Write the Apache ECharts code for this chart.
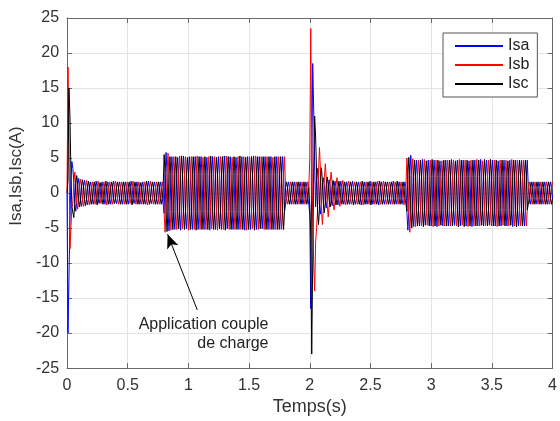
<!DOCTYPE html>
<html>
<head>
<meta charset="utf-8">
<script src="https://cdn.jsdelivr.net/npm/echarts@6/dist/echarts.min.js"></script>
<style>html,body{margin:0;padding:0;background:#fff;}#chart{width:560px;height:421px;}</style>
</head>
<body>
<div id="chart"></div>
<script>
// Sample step of the recorded currents (s)
const dt = 0.008;

const seriesNames = ['Isa', 'Isb', 'Isc'];
const seriesColors = ['#0000ff', '#ff0000', '#000000'];
const xTickLabels = ['0', '0.5', '1', '1.5', '2', '2.5', '3', '3.5', '4'];
const yTickLabels = ['-25', '-20', '-15', '-10', '-5', '0', '5', '10', '15', '20', '25'];

const Isa = [
0,-20,-12,-4,2,4.5,3.5,1.5,-1.5,-2.6,-1.3,1.1,
2.1,1.0,-1.0,-1.9,-0.9,0.9,1.8,0.9,-0.8,-1.7,-0.8,0.8,
1.6,0.8,-0.8,-1.6,-0.8,0.8,1.7,0.8,-0.8,-1.5,-0.8,0.8,
1.6,0.8,-0.7,-1.6,-0.8,0.8,1.6,0.8,-0.8,-1.6,-0.8,0.9,
1.7,0.8,-0.8,-1.5,-0.8,0.8,1.6,0.8,-0.8,-1.6,-0.7,0.8,
1.6,0.8,-0.8,-1.6,-0.8,0.8,1.7,0.9,-0.8,-1.5,-0.8,0.8,
1.6,0.8,-0.8,-1.6,-0.8,0.8,1.6,0.8,-0.8,-1.6,-0.8,0.8,
1.7,0.8,-0.8,-1.5,-0.8,0.8,1.6,0.8,-0.8,-1.6,-0.8,0.8,
1.6,0.8,-0.8,-1.6,-2.9,2.9,5.8,2.8,-2.7,-5.4,-2.6,2.6,
5.2,2.6,-2.6,-5.2,-2.6,2.6,5.1,2.6,-2.6,-5.3,-2.6,2.6,
5.3,2.6,-2.6,-5.1,-2.6,2.6,5.2,2.6,-2.6,-5.2,-2.6,2.6,
5.2,2.6,-2.6,-5.2,-2.6,2.6,5.2,2.6,-2.5,-5.2,-2.6,2.6,
5.1,2.6,-2.6,-5.3,-2.6,2.6,5.2,2.6,-2.6,-5.2,-2.6,2.6,
5.2,2.6,-2.6,-5.2,-2.6,2.5,5.3,2.6,-2.6,-5.1,-2.6,2.6,
5.2,2.6,-2.6,-5.2,-2.6,2.6,5.1,2.6,-2.6,-5.2,-2.6,2.6,
5.2,2.6,-2.6,-5.3,-2.6,2.6,5.2,2.6,-2.6,-5.2,-2.6,2.6,
5.3,2.6,-2.6,-5.2,-2.6,2.6,5.2,2.6,-2.6,-5.1,-2.6,2.6,
5.2,2.6,-2.6,-5.2,-2.6,2.6,5.2,2.6,-2.6,-5.2,-2.6,2.6,
5.2,2.6,-2.6,-5.2,-2.6,2.6,5.2,2.6,-2.6,-1.6,-0.8,0.8,
1.6,0.8,-0.8,-1.6,-0.8,0.8,1.6,0.8,-0.8,-1.6,-0.8,0.8,
1.6,0.8,-0.8,-1.6,-0.8,0.8,1.6,0.8,-0.8,-1.6,-3,-16.5,
2,18.5,12,4,-2,2,3.5,1.7,-1.7,-3,-1.4,1.3,
2.2,1.1,-1.1,-2.1,-1.0,1.0,1.9,0.9,-0.9,-1.8,-0.9,0.9,
1.7,0.8,-0.8,-1.7,-0.8,0.8,1.7,0.8,-0.8,-1.6,-0.8,0.8,
1.6,0.8,-0.8,-1.6,-0.8,0.8,1.7,0.8,-0.8,-1.6,-0.8,0.8,
1.6,0.8,-0.8,-1.7,-0.8,0.8,1.6,0.8,-0.8,-1.6,-0.8,0.8,
1.7,0.8,-0.8,-1.6,-0.8,0.8,1.6,0.8,-0.8,-1.7,-0.8,0.8,
1.6,0.8,-0.8,-1.6,-0.8,0.8,1.6,0.8,-0.8,-1.6,-0.8,0.8,
1.7,0.8,-0.8,-1.6,-0.8,0.8,1.6,0.8,-0.8,-1.6,-0.8,0.8,
1.6,0.8,-2.7,-5.3,-2.6,2.6,5.4,2.5,-2.4,-4.8,-2.4,2.4,
4.7,2.4,-2.4,-4.7,-2.4,2.4,4.8,2.4,-2.4,-4.6,-2.4,2.4,
4.7,2.4,-2.4,-4.7,-2.4,2.4,4.7,2.4,-2.4,-4.8,-2.4,2.4,
4.6,2.4,-2.4,-4.7,-2.4,2.4,4.7,2.4,-2.4,-4.7,-2.4,2.4,
4.8,2.4,-2.4,-4.6,-2.4,2.4,4.7,2.4,-2.4,-4.7,-2.4,2.4,
4.7,2.4,-2.4,-4.7,-2.4,2.4,4.6,2.4,-2.4,-4.8,-2.4,2.4,
4.7,2.4,-2.4,-4.7,-2.4,2.4,4.8,2.4,-2.4,-4.7,-2.4,2.4,
4.7,2.4,-2.4,-4.6,-2.4,2.4,4.7,2.4,-2.4,-4.7,-2.4,2.4,
4.6,2.4,-2.4,-4.7,-2.4,2.4,4.7,2.4,-2.4,-4.7,-2.4,2.4,
4.7,2.4,-2.4,-4.8,-2.4,2.4,4.7,2.4,-2.4,-4.7,-2.4,2.4,
4.7,2.4,-2.4,-4.7,-2.4,2.4,4.7,0.8,-0.8,-1.6,-0.8,0.8,
1.6,0.8,-0.8,-1.6,-0.8,0.8,1.6,0.8,-0.8,-1.6,-0.8,0.8,
1.6,0.8,-0.8,-1.6,-0.8,0.8,1.6,0.8,-0.8
];

const Isb = [
0,18,8,-8,-5,-2,-1.5,1.5,3,1.3,-1.2,-2.3,
-1.0,1.0,2.0,1.0,-0.9,-1.9,-0.9,0.9,1.8,0.8,-0.8,-1.7,
-0.8,0.8,1.6,0.8,-0.8,-1.6,-0.8,0.8,1.7,0.8,-0.8,-1.5,
-0.8,0.8,1.6,0.8,-0.8,-1.7,-0.8,0.8,1.6,0.8,-0.8,-1.6,
-0.8,0.8,1.7,0.8,-0.8,-1.6,-0.8,0.8,1.6,0.8,-0.8,-1.6,
-0.8,0.8,1.6,0.8,-0.8,-1.5,-0.8,0.8,1.7,0.8,-0.8,-1.6,
-0.8,0.8,1.6,0.8,-0.8,-1.6,-0.8,0.8,1.6,0.8,-0.8,-1.7,
-0.8,0.8,1.7,0.8,-0.8,-1.6,-0.8,0.8,1.6,0.8,-0.8,-1.6,
-0.8,0.8,1.6,0.8,-2.8,-5.6,-2.8,2.8,5.7,2.7,-2.6,-5.3,
-2.6,2.6,5.2,2.6,-2.6,-5.2,-2.6,2.6,5.3,2.6,-2.6,-5.1,
-2.6,2.6,5.2,2.6,-2.6,-5.3,-2.6,2.6,5.2,2.6,-2.6,-5.2,
-2.6,2.6,5.3,2.6,-2.6,-5.2,-2.6,2.6,5.1,2.6,-2.6,-5.2,
-2.6,2.6,5.2,2.6,-2.6,-5.1,-2.6,2.6,5.2,2.6,-2.6,-5.3,
-2.6,2.6,5.2,2.6,-2.6,-5.2,-2.6,2.6,5.3,2.6,-2.6,-5.2,
-2.6,2.6,5.1,2.6,-2.6,-5.2,-2.6,2.6,5.2,2.6,-2.6,-5.2,
-2.6,2.6,5.2,2.6,-2.6,-5.3,-2.6,2.6,5.2,2.6,-2.6,-5.1,
-2.6,2.6,5.3,2.6,-2.6,-5.2,-2.6,2.6,5.2,2.6,-2.6,-5.2,
-2.6,2.6,5.2,2.6,-2.6,-5.2,-2.6,2.6,5.1,2.6,-2.6,-5.2,
-2.6,2.6,5.2,2.6,-2.6,-5.2,-2.6,2.6,5.2,0.8,-0.8,-1.6,
-0.8,0.8,1.6,0.8,-0.8,-1.6,-0.8,0.8,1.6,0.8,-0.8,-1.6,
-0.8,0.8,1.6,0.8,-0.8,-1.6,-0.8,0.8,1.6,0.8,5,23.5,
8,-4,-10,-14,-7,-5,-2.5,3,6.5,3.2,-2.5,-4.5,
-2.2,2.2,4.2,2.0,-1.8,-3.4,-1.6,1.6,3.0,1.4,-1.3,-2.4,
-1.1,1.1,2.2,1.0,-0.9,-1.9,-0.9,0.9,1.8,0.8,-0.8,-1.7,
-0.8,0.8,1.7,0.8,-0.8,-1.6,-0.8,0.8,1.6,0.8,-0.8,-1.6,
-0.8,0.8,1.6,0.8,-0.8,-1.7,-0.8,0.8,1.6,0.8,-0.8,-1.6,
-0.8,0.8,1.6,0.8,-0.8,-1.6,-0.8,0.8,1.7,0.8,-0.8,-1.6,
-0.8,0.8,1.7,0.8,-0.8,-1.6,-0.8,0.8,1.6,0.8,-0.8,-1.6,
-0.8,0.8,1.6,0.8,-0.8,-1.6,-0.8,0.8,1.6,0.8,-0.8,-1.7,
-0.8,0.8,5.0,2.5,-2.7,-5.6,-2.6,2.5,4.9,2.4,-2.4,-4.8,
-2.4,2.4,4.7,2.4,-2.4,-4.7,-2.4,2.4,4.8,2.4,-2.4,-4.6,
-2.4,2.4,4.7,2.4,-2.4,-4.8,-2.4,2.4,4.7,2.4,-2.4,-4.7,
-2.4,2.4,4.6,2.4,-2.4,-4.7,-2.4,2.4,4.7,2.4,-2.4,-4.7,
-2.4,2.4,4.7,2.4,-2.4,-4.7,-2.4,2.4,4.8,2.4,-2.4,-4.6,
-2.4,2.4,4.7,2.4,-2.4,-4.8,-2.4,2.4,4.7,2.4,-2.4,-4.7,
-2.4,2.4,4.8,2.4,-2.4,-4.7,-2.4,2.4,4.6,2.4,-2.4,-4.7,
-2.4,2.4,4.7,2.4,-2.4,-4.7,-2.4,2.4,4.7,2.4,-2.4,-4.8,
-2.4,2.4,4.7,2.4,-2.4,-4.6,-2.4,2.4,4.7,2.4,-2.4,-4.7,
-2.4,2.4,4.8,2.4,-2.4,-4.7,-2.4,2.4,4.7,2.4,-2.4,-4.7,
-2.4,2.4,4.7,2.4,-2.4,-4.7,-2.4,0.8,1.6,0.8,-0.8,-1.6,
-0.8,0.8,1.6,0.8,-0.8,-1.6,-0.8,0.8,1.6,0.8,-0.8,-1.6,
-0.8,0.8,1.6,0.8,-0.8,-1.6,-0.8,0.8,1.6
];

const Isc = [
0,2,15,11,3,-2,-2,-3.5,-1.5,1.3,2.5,1.2,
-1.0,-2.0,-1.0,1.0,1.9,0.9,-0.9,-1.8,-0.9,0.8,1.7,0.8,
-0.8,-1.6,-0.8,0.8,1.6,0.8,-0.8,-1.7,-0.8,0.8,1.5,0.8,
-0.8,-1.6,-0.8,0.8,1.7,0.8,-0.8,-1.6,-0.8,0.8,1.6,0.8,
-0.8,-1.5,-0.8,0.8,1.6,0.8,-0.8,-1.6,-0.8,0.8,1.6,0.8,
-0.8,-1.6,-0.8,0.8,1.6,0.8,-0.8,-1.7,-0.8,0.8,1.6,0.8,
-0.8,-1.6,-0.8,0.8,1.5,0.8,-0.8,-1.6,-0.8,0.8,1.7,0.8,
-0.8,-1.6,-0.8,0.8,1.6,0.8,-0.8,-1.6,-0.8,0.8,1.6,0.8,
-0.8,-1.6,-0.8,0.8,5.5,2.8,-2.7,-5.5,-2.6,2.6,5.2,2.6,
-2.6,-5.2,-2.6,2.6,5.2,2.6,-2.6,-5.1,-2.6,2.6,5.3,2.6,
-2.6,-5.2,-2.6,2.6,5.1,2.6,-2.6,-5.2,-2.6,2.6,5.2,2.6,
-2.6,-5.3,-2.6,2.6,5.2,2.6,-2.6,-5.2,-2.6,2.6,5.2,2.6,
-2.6,-5.2,-2.6,2.6,5.3,2.6,-2.6,-5.2,-2.6,2.6,5.1,2.6,
-2.6,-5.1,-2.6,2.6,5.2,2.6,-2.6,-5.3,-2.6,2.6,5.2,2.6,
-2.6,-5.2,-2.6,2.6,5.2,2.6,-2.6,-5.2,-2.6,2.6,5.3,2.6,
-2.6,-5.2,-2.6,2.6,5.1,2.6,-2.6,-5.2,-2.6,2.6,5.2,2.6,
-2.6,-5.3,-2.6,2.6,5.2,2.6,-2.6,-5.1,-2.6,2.6,5.2,2.6,
-2.6,-5.2,-2.6,2.6,5.2,2.6,-2.6,-5.2,-2.6,2.6,5.2,2.6,
-2.6,-5.2,-2.6,2.6,5.2,2.6,-2.6,-5.2,-2.6,0.8,1.6,0.8,
-0.8,-1.6,-0.8,0.8,1.6,0.8,-0.8,-1.6,-0.8,0.8,1.6,0.8,
-0.8,-1.6,-0.8,0.8,1.6,0.8,-0.8,-1.6,-0.8,0.8,-2,-6,
-23,-10,3,11,8,3,-2.5,-4.5,-2.2,2,3.6,1.7,
-1.5,-2.8,-1.3,1.2,2.3,1.1,-1.0,-2.0,-1.0,0.9,1.8,0.9,
-0.8,-1.7,-0.8,0.8,1.7,0.8,-0.8,-1.6,-0.8,0.8,1.6,0.8,
-0.8,-1.6,-0.8,0.8,1.6,0.8,-0.8,-1.7,-0.8,0.8,1.6,0.8,
-0.8,-1.6,-0.8,0.8,1.7,0.8,-0.8,-1.6,-0.8,0.8,1.6,0.8,
-0.8,-1.7,-0.8,0.8,1.6,0.8,-0.8,-1.6,-0.8,0.8,1.7,0.8,
-0.8,-1.6,-0.8,0.8,1.6,0.8,-0.8,-1.6,-0.8,0.8,1.6,0.8,
-0.8,-1.6,-0.8,0.8,1.7,0.8,-0.8,-1.6,-0.8,0.8,1.6,0.8,
-0.8,-1.6,-2.6,2.6,5.1,2.5,-2.5,-5.0,-2.4,2.4,4.7,2.4,
-2.4,-4.7,-2.4,2.4,4.7,2.4,-2.4,-4.8,-2.4,2.4,4.6,2.4,
-2.4,-4.7,-2.4,2.4,4.8,2.4,-2.4,-4.7,-2.4,2.4,4.7,2.4,
-2.4,-4.6,-2.4,2.4,4.7,2.4,-2.4,-4.7,-2.4,2.4,4.7,2.4,
-2.4,-4.7,-2.4,2.4,4.6,2.4,-2.4,-4.8,-2.4,2.4,4.7,2.4,
-2.4,-4.8,-2.4,2.4,4.7,2.4,-2.4,-4.7,-2.4,2.4,4.7,2.4,
-2.4,-4.7,-2.4,2.4,4.7,2.4,-2.4,-4.6,-2.4,2.4,4.8,2.4,
-2.4,-4.7,-2.4,2.4,4.8,2.4,-2.4,-4.7,-2.4,2.4,4.7,2.4,
-2.4,-4.7,-2.4,2.4,4.7,2.4,-2.4,-4.7,-2.4,2.4,4.6,2.4,
-2.4,-4.6,-2.4,2.4,4.7,2.4,-2.4,-4.8,-2.4,2.4,4.7,2.4,
-2.4,-4.7,-2.4,2.4,4.7,2.4,-2.4,-1.6,-0.8,0.8,1.6,0.8,
-0.8,-1.6,-0.8,0.8,1.6,0.8,-0.8,-1.6,-0.8,0.8,1.6,0.8,
-0.8,-1.6,-0.8,0.8,1.6,0.8,-0.8,-1.6,-0.8
];

// Annotation (data coordinates)
const arrowFrom = [1.073, -16.7];
const arrowTo = [0.829, -5.9];
const noteAnchor = [1.66, -20.2];
const noteText = 'Application couple\nde charge';

const time = Isa.map((_, i) => Math.round(i * dt * 1000) / 1000);
const allValues = [Isa, Isb, Isc];

const FONT = '"Liberation Sans", Arial, Helvetica, sans-serif';
const chart = echarts.init(document.getElementById('chart'), null, { renderer: 'canvas' });

const frameColor = '#6a6a6a';
const gridColor = '#e4e4e4';
const textColor = '#333';

const option = {
  animation: false,
  backgroundColor: '#fff',
  textStyle: { fontFamily: FONT },
  grid: { left: 65, right: 3, top: 18, bottom: 49, containLabel: false },
  legend: {
    data: seriesNames.map((n) => ({ name: n, icon: 'rect' })),
    orient: 'vertical',
    left: 443,
    top: 33,
    padding: [5, 8, 5, 12],
    itemGap: 3,
    itemWidth: 48,
    itemHeight: 2,
    backgroundColor: '#fff',
    borderColor: '#555',
    borderWidth: 1,
    textStyle: { fontFamily: FONT, fontSize: 16, color: '#222', lineHeight: 16 }
  },
  xAxis: [
    {
      type: 'value', min: 0, max: 4, interval: 0.5,
      name: 'Temps(s)', nameLocation: 'middle', nameGap: 24,
      nameTextStyle: { fontFamily: FONT, fontSize: 18, color: textColor },
      axisLine: { show: true, onZero: false, lineStyle: { color: frameColor, width: 1 } },
      axisTick: { show: true, inside: true, length: 5, lineStyle: { color: frameColor } },
      axisLabel: { fontFamily: FONT, fontSize: 16, color: textColor, margin: 9,
        formatter: (v) => xTickLabels[Math.round(v / 0.5)] },
      splitLine: { show: true, lineStyle: { color: gridColor, width: 1 } }
    },
    {
      type: 'value', min: 0, max: 4, interval: 0.5, position: 'top',
      axisLine: { show: true, onZero: false, lineStyle: { color: frameColor, width: 1 } },
      axisTick: { show: true, inside: true, length: 5, lineStyle: { color: frameColor } },
      axisLabel: { show: false }, splitLine: { show: false }
    }
  ],
  yAxis: [
    {
      type: 'value', min: -25, max: 25, interval: 5,
      name: 'Isa,Isb,Isc(A)', nameLocation: 'middle', nameGap: 36,
      nameTextStyle: { fontFamily: FONT, fontSize: 17, color: textColor, padding: [0, 0, 0, 34] },
      axisLine: { show: true, onZero: false, lineStyle: { color: frameColor, width: 1 } },
      axisTick: { show: true, inside: true, length: 5, lineStyle: { color: frameColor } },
      axisLabel: { fontFamily: FONT, fontSize: 16, color: textColor, margin: 8,
        formatter: (v) => yTickLabels[Math.round((v + 25) / 5)] },
      splitLine: { show: true, lineStyle: { color: gridColor, width: 1 } }
    },
    {
      type: 'value', min: -25, max: 25, interval: 5, position: 'right',
      axisLine: { show: true, onZero: false, lineStyle: { color: frameColor, width: 1 } },
      axisTick: { show: true, inside: true, length: 5, lineStyle: { color: frameColor } },
      axisLabel: { show: false }, splitLine: { show: false }
    }
  ],
  series: seriesNames.map((name, s) => ({
    name,
    type: 'line',
    xAxisIndex: 0,
    yAxisIndex: 0,
    symbol: 'none',
    showSymbol: false,
    sampling: null,
    color: seriesColors[s],
    lineStyle: { color: seriesColors[s], width: 1 },
    data: allValues[s].map((v, i) => [time[i], v]),
    markLine: s === 2 ? {
      silent: true,
      symbol: ['none', 'arrow'],
      symbolSize: [9, 14],
      label: { show: false },
      lineStyle: { color: '#000', width: 1, type: 'solid' },
      data: [[{ coord: arrowFrom }, { coord: arrowTo }]]
    } : undefined,
    z: 2 + s
  }))
};

chart.setOption(option);

const p = chart.convertToPixel({ xAxisIndex: 0, yAxisIndex: 0 }, noteAnchor);
chart.setOption({
  graphic: [{
    type: 'text',
    x: p[0], y: p[1],
    z: 100,
    style: {
      text: noteText,
      fontFamily: FONT, fontSize: 16, fill: '#222',
      align: 'right', verticalAlign: 'middle', lineHeight: 19
    }
  }]
});
</script>
</body>
</html>
